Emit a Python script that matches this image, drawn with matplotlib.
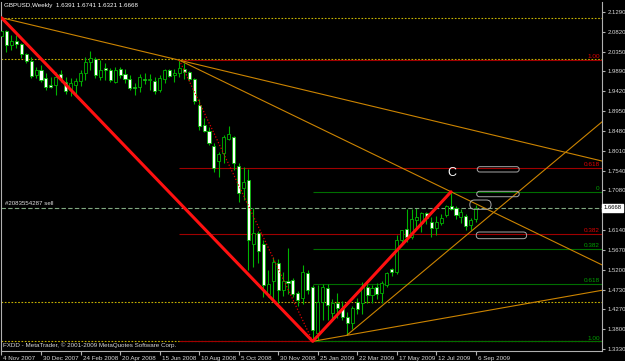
import numpy as np
import matplotlib.pyplot as plt
from matplotlib.patches import FancyBboxPatch
from matplotlib.transforms import ScaledTranslation, blended_transform_factory

plt.rcParams['font.family'] = ['Liberation Sans', 'DejaVu Sans']

# weekly GBPUSD candles, 4 Nov 2007 .. 6 Sep 2009
opens = [2.0740, 2.0840, 2.0520, 2.0600, 2.0530, 2.0300, 2.0140, 1.9810, 1.9920, 1.9740,
         1.9570, 1.9570, 1.9820, 1.9650, 1.9450, 1.9560, 1.9660, 1.9850, 2.0120, 2.0180,
         1.9770, 1.9965, 1.9925, 1.9650, 1.9945, 1.9830, 1.9700, 1.9530, 1.9530, 1.9704,
         1.9690, 1.9670, 1.9450, 1.9710, 1.9920, 1.9800, 1.9850, 1.9960, 1.9880, 1.9720,
         1.9100, 1.8620, 1.8490, 1.8130, 1.7760, 1.7950, 1.8290, 1.8330, 1.7660, 1.7125,
         1.7320, 1.5810, 1.6075, 1.5810, 1.4620, 1.4920, 1.5350, 1.4720, 1.4940, 1.4955,
         1.4655, 1.4520, 1.5130, 1.4800, 1.3700, 1.4440, 1.4760, 1.4180, 1.4400, 1.4290,
         1.4090, 1.3930, 1.4440, 1.4400, 1.4800, 1.4600, 1.4780, 1.4640, 1.4835, 1.5210,
         1.5150, 1.5900, 1.6155, 1.5980, 1.6370, 1.6300, 1.6530, 1.6335, 1.6180, 1.6300,
         1.6500, 1.6700, 1.6650, 1.6453, 1.6470, 1.6257, 1.6391]
highs = [2.1161, 2.0870, 2.0750, 2.0750, 2.0560, 2.0330, 2.0240, 2.0000, 2.0040, 1.9850,
         1.9770, 1.9880, 1.9925, 1.9770, 1.9730, 1.9730, 1.9925, 2.0240, 2.0380, 2.0240,
         2.0160, 2.0100, 1.9965, 2.0000, 2.0000, 1.9940, 1.9800, 1.9610, 1.9840, 1.9846,
         1.9820, 1.9750, 1.9800, 1.9960, 1.9960, 1.9960, 2.0157, 2.0100, 1.9910, 1.9730,
         1.9240, 1.8780, 1.8570, 1.8190, 1.7990, 1.8380, 1.8610, 1.8360, 1.7720, 1.7630,
         1.7580, 1.6650, 1.6120, 1.5890, 1.5190, 1.5510, 1.5450, 1.5140, 1.5706, 1.5000,
         1.4700, 1.5300, 1.5190, 1.4830, 1.4835, 1.4850, 1.4850, 1.4500, 1.4640, 1.4450,
         1.4200, 1.4350, 1.4540, 1.4900, 1.4850, 1.4840, 1.4890, 1.4930, 1.5150, 1.5240,
         1.6010, 1.6150, 1.6630, 1.6630, 1.6650, 1.6560, 1.6560, 1.6450, 1.6480, 1.6520,
         1.6740, 1.7043, 1.6700, 1.6640, 1.6520, 1.6430, 1.6741]
lows = [2.0700, 2.0360, 2.0400, 2.0440, 2.0200, 2.0080, 1.9730, 1.9730, 1.9650, 1.9450,
        1.9490, 1.9330, 1.9640, 1.9350, 1.9300, 1.9330, 1.9550, 1.9690, 1.9930, 1.9730,
        1.9690, 1.9690, 1.9650, 1.9610, 1.9730, 1.9610, 1.9460, 1.9330, 1.9410, 1.9593,
        1.9460, 1.9350, 1.9410, 1.9610, 1.9760, 1.9630, 1.9770, 1.9700, 1.9670, 1.9120,
        1.8500, 1.8460, 1.8150, 1.7520, 1.7400, 1.7730, 1.8270, 1.7570, 1.6790, 1.6860,
        1.5190, 1.5270, 1.5360, 1.4546, 1.4560, 1.4460, 1.4380, 1.4570, 1.4630, 1.4560,
        1.4340, 1.4380, 1.4630, 1.3503, 1.3535, 1.4000, 1.4000, 1.4000, 1.4050, 1.4000,
        1.3657, 1.3800, 1.4160, 1.4140, 1.4420, 1.4400, 1.4500, 1.4400, 1.4800, 1.5060,
        1.5100, 1.5800, 1.5860, 1.5920, 1.6130, 1.6100, 1.6270, 1.5980, 1.6020, 1.6250,
        1.6450, 1.6600, 1.6400, 1.6300, 1.6130, 1.6130, 1.6321]
closes = [2.0840, 2.0520, 2.0600, 2.0530, 2.0300, 2.0140, 1.9790, 1.9920, 1.9690, 1.9530,
          1.9525, 1.9770, 1.9710, 1.9430, 1.9610, 1.9660, 1.9850, 2.0120, 2.0200, 1.9810,
          1.9920, 1.9925, 1.9690, 1.9925, 1.9810, 1.9700, 1.9490, 1.9490, 1.9770, 1.9688,
          1.9720, 1.9435, 1.9740, 1.9920, 1.9780, 1.9860, 1.9970, 1.9880, 1.9700, 1.9180,
          1.8610, 1.8490, 1.8190, 1.7600, 1.7940, 1.8350, 1.8410, 1.7720, 1.7020, 1.7280,
          1.5900, 1.6075, 1.5650, 1.4840, 1.4850, 1.5390, 1.4720, 1.4920, 1.4890, 1.4620,
          1.4480, 1.5150, 1.4720, 1.3770, 1.4440, 1.4800, 1.4360, 1.4400, 1.4290, 1.4090,
          1.3945, 1.4290, 1.4260, 1.4800, 1.4600, 1.4760, 1.4620, 1.4880, 1.5110, 1.5150,
          1.5900, 1.6140, 1.5980, 1.6390, 1.6450, 1.6530, 1.6415, 1.6180, 1.6335, 1.6415,
          1.6700, 1.6640, 1.6494, 1.6570, 1.6233, 1.6375, 1.6668]

date_weeks = [0, 8, 16, 24, 32, 40, 48, 56, 64, 72, 80, 88, 96]
date_labels = ['4 Nov 2007', '30 Dec 2007', '24 Feb 2008', '20 Apr 2008', '15 Jun 2008',
               '10 Aug 2008', '5 Oct 2008', '30 Nov 2008', '25 Jan 2009', '22 Mar 2009',
               '17 May 2009', '12 Jul 2009', '6 Sep 2009']
price_ticks = [2.1290, 2.0820, 2.0350, 1.9890, 1.9420, 1.8950, 1.8480, 1.8010, 1.7540,
               1.7080, 1.6140, 1.5670, 1.5200, 1.4730, 1.4270, 1.3800, 1.3330]

# fibonacci objects
red_fib_start = 36
red_fib_prices = [2.0157, 1.7615, 1.6045, 1.3503]
red_fib_labels = ['1.00', '0.618', '0.382', '']
green_fib_start = 63
green_fib_prices = [1.7043, 1.5691, 1.4855, 1.3503]
green_fib_labels = ['0', '0.382', '0.618', '1.00']
yellow_levels = [2.1161, 2.0180, 1.4440, 1.3503]

# trend line rays (week, price) -> (week, price)
ray_a = [(0, 2.1161), (36, 2.0157)]
ray_b = [(36, 2.0157), (91, 1.7043)]
ray_c = [(63, 1.3503), (99, 1.4246)]
ray_d = [(70, 1.3657), (100, 1.6590)]
zigzag_weeks = [0, 63, 91]
zigzag_prices = [2.1161, 1.3503, 1.7043]

# ellipses drawn on chart
oval_x0 = [96.3, 96.2, 94.8, 96.1]
oval_x1 = [104.8, 104.8, 99.1, 106.3]
oval_lo = [1.7511, 1.6926, 1.6628, 1.5933]
oval_hi = [1.7637, 1.7054, 1.6848, 1.6091]

bid = 1.6668
xmin, xmax = -0.1, 121.56
ymin, ymax = 1.3275, 2.1534

fig = plt.figure(figsize=(6.25, 3.61), dpi=100, facecolor='black')
ax = fig.add_axes([1 / 625, 10 / 361, 601 / 625, 349 / 361])
ax.set_facecolor('black')
ax.set_xlim(xmin, xmax)
ax.set_ylim(ymin, ymax)

gray = '#b0b0b0'
for s in ['left', 'bottom', 'right']:
    ax.spines[s].set_color(gray)
    ax.spines[s].set_linewidth(0.8)
ax.spines['top'].set_visible(False)

# horizontal levels
for p in yellow_levels:
    ax.axhline(p, color='#c8b400', lw=0.8, ls=(0, (1.5, 1.5)), zorder=1)
for p, lab in zip(red_fib_prices, red_fib_labels):
    ax.hlines(p, red_fib_start, xmax, color='#a00000', lw=0.8, zorder=1)
    if lab:
        ax.text(121.1, p + 0.002, lab, color='#e00000', fontsize=4.6, ha='right', va='bottom')
for p, lab in zip(green_fib_prices, green_fib_labels):
    ax.hlines(p, green_fib_start, xmax, color='#006e00', lw=0.8, zorder=1)
    ax.text(121.1, p + 0.002, lab, color='#00a000', fontsize=4.6, ha='right', va='bottom')

# candles
weeks = np.arange(len(opens))
o = np.array(opens)
c = np.array(closes)
green = '#00b400'
ax.vlines(weeks, lows, highs, color=green, lw=0.8, zorder=2)
bull = c >= o
ax.bar(weeks, np.abs(c - o), bottom=np.minimum(o, c), width=0.62,
       color=np.where(bull, 'black', 'white'), edgecolor=green, lw=0.6, zorder=3)

# current price / order line
ax.axhline(bid, color='#80a880', lw=0.8, ls=(0, (4, 2)), zorder=2)
ax.text(0.8, bid + 0.003, '#2083554287 sell', color='#e0e0e0', fontsize=4.4,
        ha='left', va='bottom')

# trend lines
def ray(pts, **kw):
    (x0, y0), (x1, y1) = pts
    slope = (y1 - y0) / (x1 - x0)
    ax.plot([x0, xmax], [y0, y0 + slope * (xmax - x0)], **kw)

for r in [ray_a, ray_b, ray_c, ray_d]:
    ray(r, color='#cc8400', lw=0.8, zorder=4)

ax.plot([red_fib_start, green_fib_start], [red_fib_prices[0], red_fib_prices[-1]],
        color='#e00000', lw=0.9, ls=(0, (1, 1.5)), zorder=4)
ax.plot(zigzag_weeks, zigzag_prices, color='#ff1010', lw=2.2, zorder=5,
        solid_capstyle='round')

# ovals
aspect = (ymax - ymin) / 349 / ((xmax - xmin) / 601)
for x0, x1, lo, hi in zip(oval_x0, oval_x1, oval_lo, oval_hi):
    r = (hi - lo) / aspect / 2
    ax.add_patch(FancyBboxPatch((x0, lo), x1 - x0, hi - lo,
                                boxstyle=f'round,pad=0,rounding_size={r}',
                                mutation_aspect=aspect, fill=False,
                                edgecolor='#a8a8a8', lw=0.7, zorder=6))

ax.text(91.2, 1.7480, 'C', color='white', fontsize=9, ha='center', va='center', zorder=7)

# axes ticks
ax.yaxis.tick_right()
ax.set_yticks(price_ticks)
ax.set_yticklabels([f'{p:.4f}' for p in price_ticks])
ax.tick_params(axis='y', colors=gray, labelcolor='#d8d8d8', labelsize=4.3,
               length=2, width=0.8, pad=2)
ax.set_xticks(date_weeks)
ax.set_xticklabels(date_labels, ha='left')
ax.tick_params(axis='x', colors=gray, labelcolor='#d8d8d8', labelsize=4.5,
               length=3, width=0.8, pad=0.5)
for lab in ax.get_xticklabels():
    lab.set_transform(lab.get_transform() + ScaledTranslation(2 / 100, 0, fig.dpi_scale_trans))

trans = blended_transform_factory(ax.transAxes, ax.transData)
ax.text(1.003, bid, '1.6668', transform=trans, fontsize=4.3, color='black',
        ha='left', va='center', zorder=8,
        bbox=dict(boxstyle='square,pad=0.25', fc='white', ec='white'))

fig.text(4 / 625, 1 - 6 / 361, 'GBPUSD,Weekly  1.6391 1.6741 1.6321 1.6668',
         color='white', fontsize=4.5, ha='left', va='center')
fig.text(3 / 625, 1 - 345 / 361, 'FXDD - MetaTrader, \u00a9 2001-2009 MetaQuotes Software Corp.',
         color='#d8d8d8', fontsize=4.5, ha='left', va='center')

fig.savefig('out.png', dpi=100, facecolor='black')
